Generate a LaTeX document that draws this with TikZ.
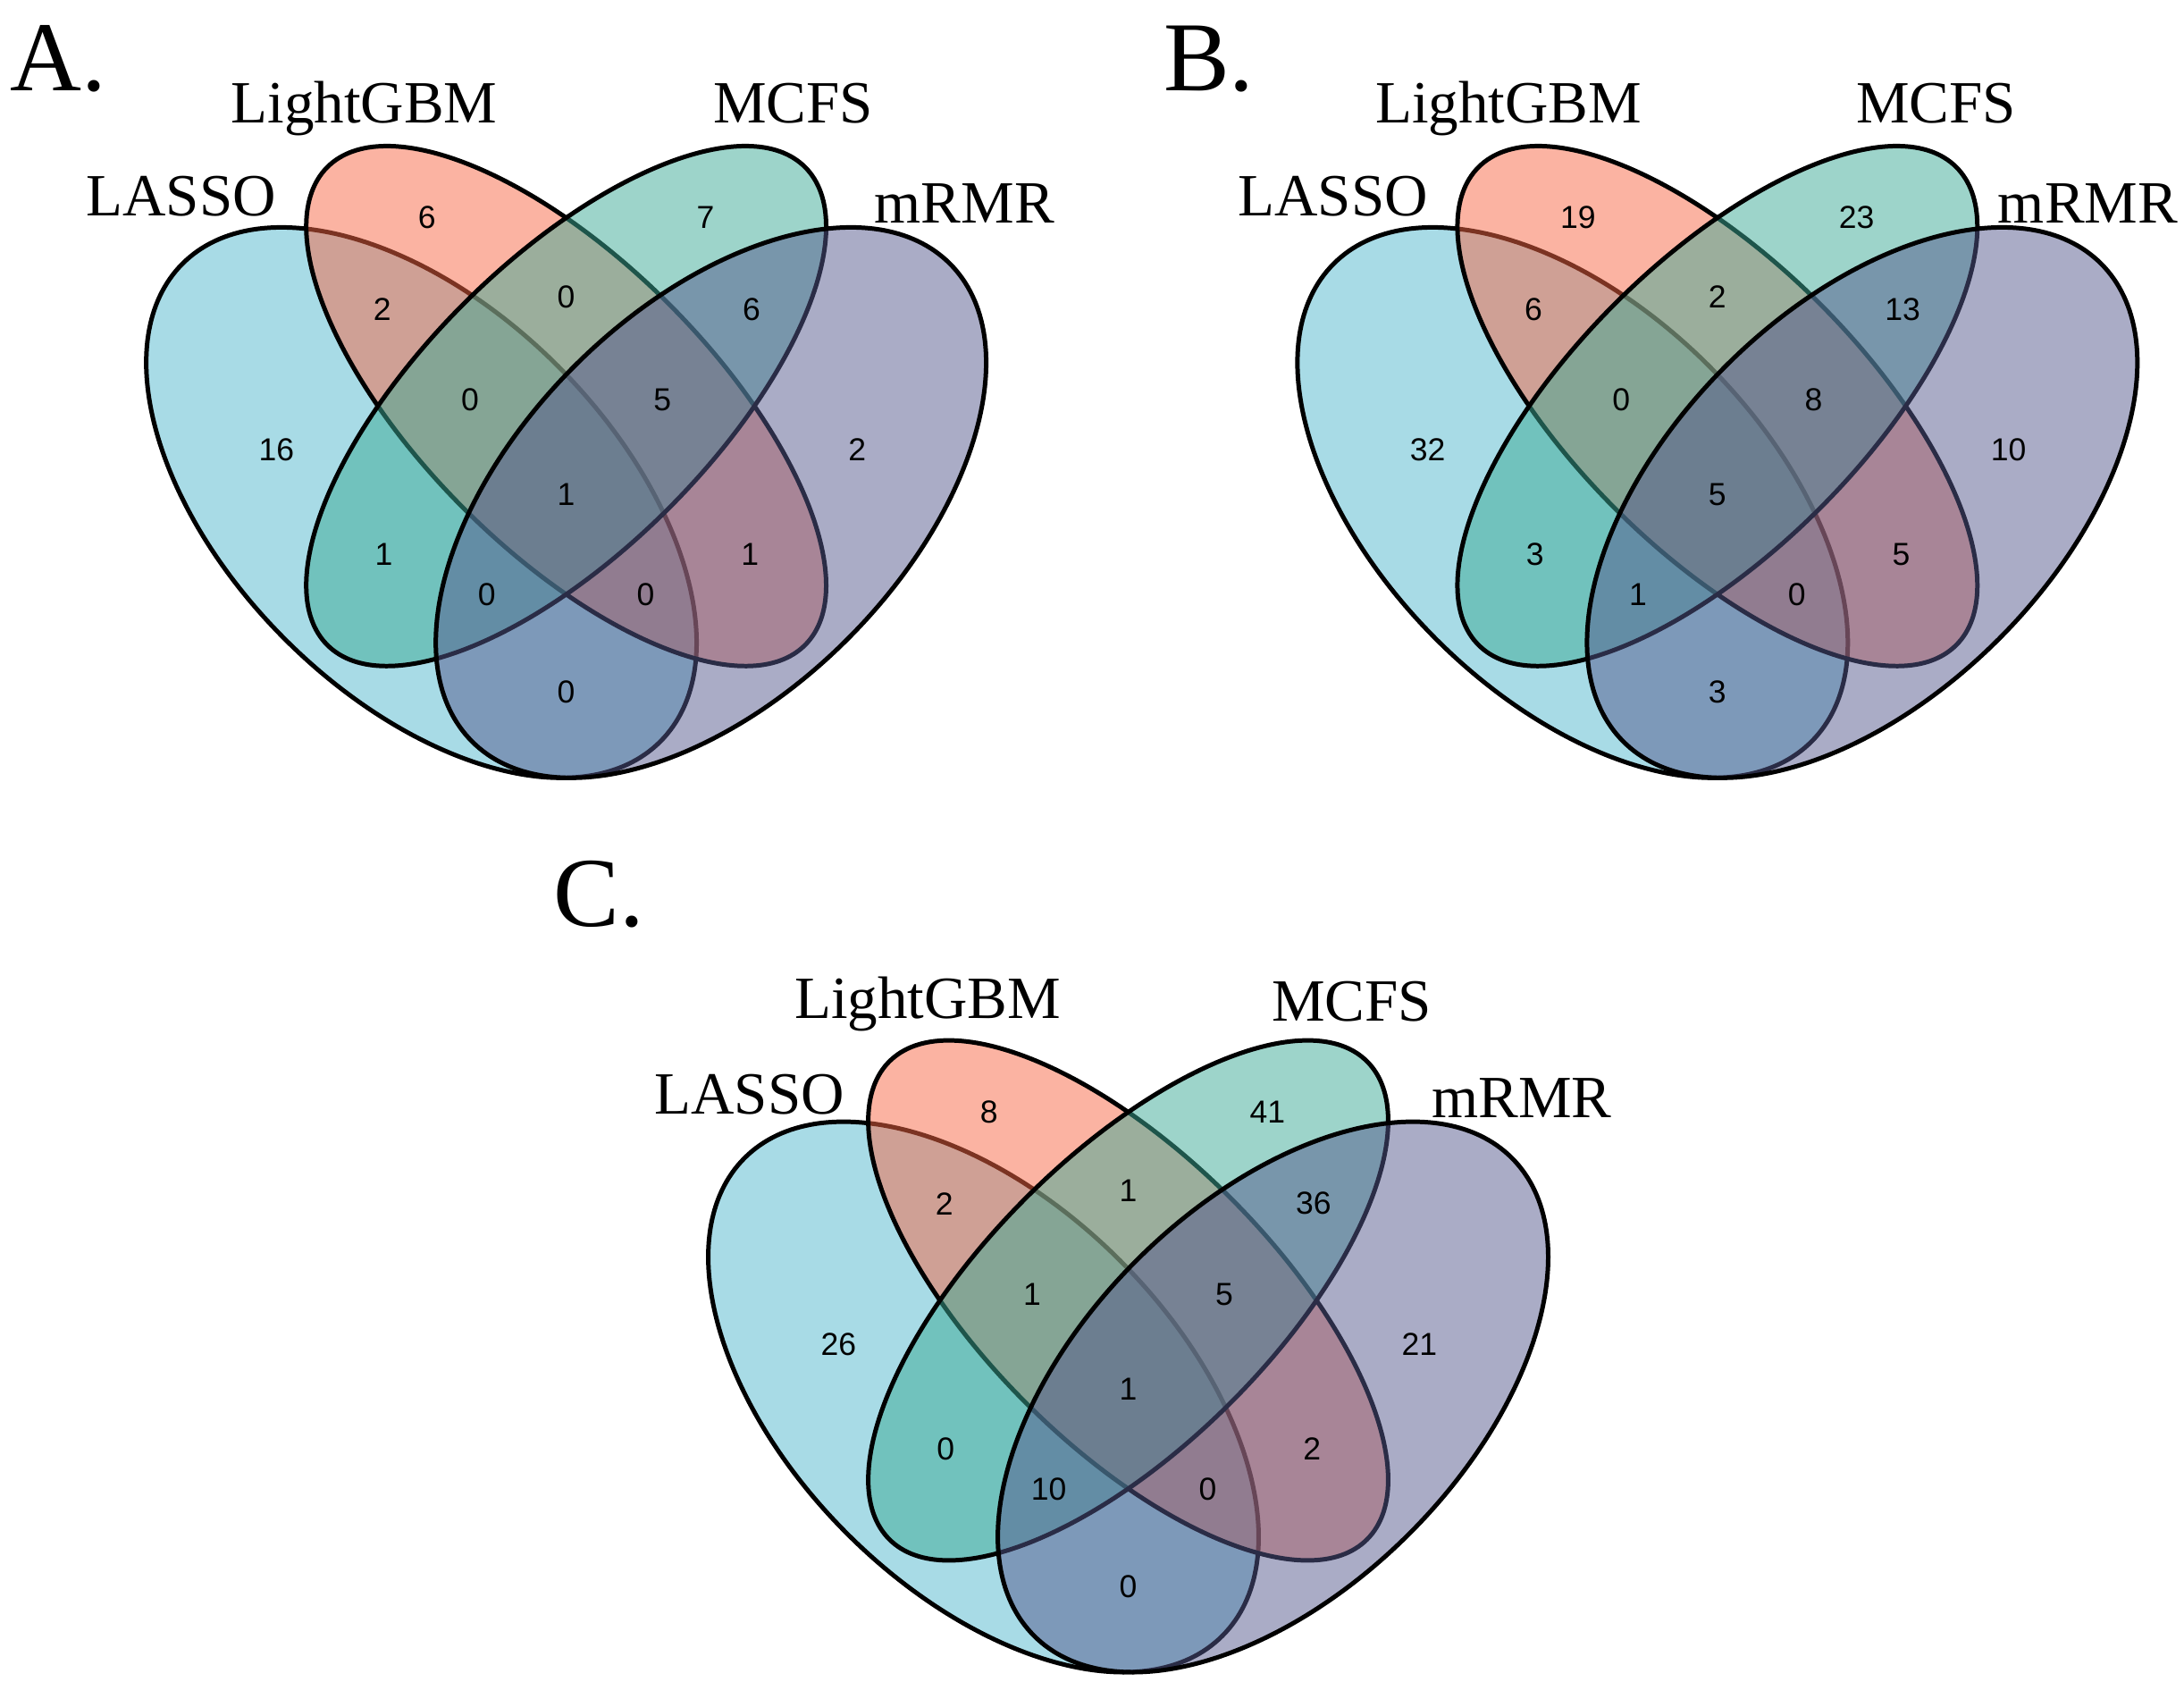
\documentclass[tikz,border=0pt]{standalone}
\usepackage{fontspec}
\setmainfont{Liberation Serif}
\newfontfamily\numfont{Liberation Sans}
\definecolor{cLasso}{RGB}{81,183,205}
\definecolor{cLgbm}{RGB}{247,103,69}
\definecolor{cMcfs}{RGB}{60,170,150}
\definecolor{cMrmr}{RGB}{85,89,141}
\tikzset{
  venn/.style={draw=black, line width=1.6pt, fill opacity=0.5, draw opacity=1},
  num/.style={font=\numfont\fontsize{11.4}{13}\selectfont, inner sep=0pt},
  cat/.style={font=\fontsize{21.5}{24}\selectfont, anchor=base, inner sep=0pt},
  panel/.style={font=\fontsize{35.5}{38}\selectfont, anchor=base west, inner sep=0pt}
}
\newcommand\quadvenn[4]{%
  \begin{scope}[shift={(#1,#2)}, x=346.5pt, y=346.5pt]
    \filldraw[venn, fill=cLasso, rotate around={-45:(-0.15,-0.03)}] (-0.15,-0.03) ellipse [x radius=0.35, y radius=0.2];
    \filldraw[venn, fill=cLgbm, rotate around={-45:(0,0.07)}] (0,0.07) ellipse [x radius=0.35, y radius=0.15];
    \filldraw[venn, fill=cMcfs, rotate around={45:(0,0.07)}] (0,0.07) ellipse [x radius=0.35, y radius=0.15];
    \filldraw[venn, fill=cMrmr, rotate around={45:(0.15,-0.03)}] (0.15,-0.03) ellipse [x radius=0.35, y radius=0.2];
  \end{scope}
  \begin{scope}[shift={(#1,#2)}]
    \foreach \dx/\dy/\v [count=\i] in {#4}
      \node[num] (#3n\i) at (\dx,\dy) {\v};
  \end{scope}
}
\begin{document}
\begin{tikzpicture}[x=0.5pt,y=-0.5pt]
\useasboundingbox (0,0) rectangle (1568,1207);

% Panel A
\quadvenn{406.5}{340}{A}{-100/-184/6, 100/-184/7, -132/-118/2, 0/-127/0, 133/-118/6, -69/-53/0, 69/-53/5, -208/-17/16, 209/-17/2, 0/15/1, -131/58/1, 132/58/1, -57/87/0, 57/87/0, 0/157/0}
\node[panel] (pA) at (7,65) {A.};
\node[cat] (A-lasso) at (130,155) {LASSO};
\node[cat] (A-lgbm) at (261.5,88) {LightGBM};
\node[cat] (A-mcfs) at (569.5,88) {MCFS};
\node[cat] (A-mrmr) at (692.5,160) {mRMR};

% Panel B
\quadvenn{1233}{340}{B}{-100/-184/19, 100/-184/23, -132/-118/6, 0/-127/2, 133/-118/13, -69/-53/0, 69/-53/8, -208/-17/32, 209/-17/10, 0/15/5, -131/58/3, 132/58/5, -57/87/1, 57/87/0, 0/157/3}
\node[panel] (pB) at (835,65) {B.};
\node[cat] (B-lasso) at (957,155) {LASSO};
\node[cat] (B-lgbm) at (1083,88) {LightGBM};
\node[cat] (B-mcfs) at (1390,88) {MCFS};
\node[cat] (B-mrmr) at (1499,160) {mRMR};

% Panel C
\quadvenn{810}{982}{C}{-100/-184/8, 100/-184/41, -132/-118/2, 0/-127/1, 133/-118/36, -69/-53/1, 69/-53/5, -208/-17/26, 209/-17/21, 0/15/1, -131/58/0, 132/58/2, -57/87/10, 57/87/0, 0/157/0}
\node[panel] (pC) at (397,665) {C.};
\node[cat] (C-lasso) at (538,800) {LASSO};
\node[cat] (C-lgbm) at (666,731) {LightGBM};
\node[cat] (C-mcfs) at (970.5,733) {MCFS};
\node[cat] (C-mrmr) at (1092.5,802) {mRMR};
\end{tikzpicture}
\end{document}
